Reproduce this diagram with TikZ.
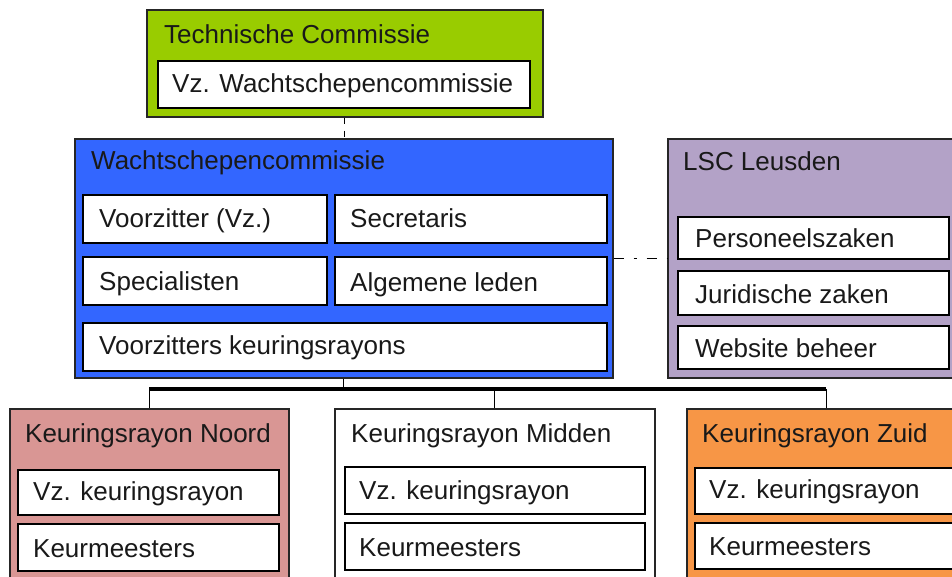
\documentclass[tikz,border=0pt]{standalone}
\usepackage{fontspec}
\setmainfont{Liberation Sans}
\definecolor{tcgreen}{HTML}{99CC00}
\definecolor{wcblue}{HTML}{3366FF}
\definecolor{lsclav}{HTML}{B3A2C7}
\definecolor{noordrose}{HTML}{D99694}
\definecolor{zuidorange}{HTML}{F79646}
\begin{document}
\begin{tikzpicture}[x=1pt,y=-1pt,
  outer/.style={draw=black!85, line width=1.6pt, anchor=north west, inner sep=0pt},
  inbox/.style={draw=black, fill=white, line width=1.6pt, anchor=north west, inner sep=0pt},
  txt/.style={anchor=base west, inner sep=0pt, font=\fontsize{26}{30}\selectfont, text=black!90},
  bus/.style={line width=3.2pt},
  link/.style={line width=1.3pt}]
\useasboundingbox (0,0) rectangle (952,576);
\clip (0,0) rectangle (952,576);
\fill[white] (0,0) rectangle (952,576);

% Technische Commissie
\node[outer, fill=tcgreen, minimum width=396pt, minimum height=107pt] (tc) at (146,9) {};
\node[inbox, minimum width=372pt, minimum height=47pt] (vzw) at (157,60) {};
\node[txt] (tct) at (164,43) {Technische Commissie};
\node[txt] (vzwt) at (172,92) {Vz. Wachtschepencommissie};

% Wachtschepencommissie
\node[outer, fill=wcblue, minimum width=538pt, minimum height=239pt] (wc) at (74,138) {};
\node[inbox, minimum width=244pt, minimum height=48pt] (vz) at (82,194) {};
\node[inbox, minimum width=272pt, minimum height=48pt] (sec) at (334,194) {};
\node[inbox, minimum width=244pt, minimum height=48pt] (spec) at (82,256) {};
\node[inbox, minimum width=272pt, minimum height=48pt] (alg) at (334,256) {};
\node[inbox, minimum width=524pt, minimum height=48pt] (vk) at (82,322) {};
\node[txt] (wct) at (91,169) {Wachtschepencommissie};
\node[txt] (vzt) at (99,227) {Voorzitter (Vz.)};
\node[txt] (sect) at (350,227) {Secretaris};
\node[txt] (spect) at (99,290) {Specialisten};
\node[txt] (algt) at (350,291) {Algemene leden};
\node[txt] (vkt) at (99,354) {Voorzitters keuringsrayons};

% LSC Leusden
\node[outer, fill=lsclav, minimum width=300pt, minimum height=239pt] (lsc) at (667,138) {};
\node[inbox, minimum width=271pt, minimum height=42pt] (pz) at (677,216) {};
\node[inbox, minimum width=271pt, minimum height=44pt] (jz) at (677,270) {};
\node[inbox, minimum width=271pt, minimum height=43pt] (wb) at (677,325) {};
\node[txt] (lsct) at (683,170) {LSC Leusden};
\node[txt] (pzt) at (695,247) {Personeelszaken};
\node[txt] (jzt) at (695,303) {Juridische zaken};
\node[txt] (wbt) at (695,357) {Website beheer};

% Keuringsrayons
\node[outer, fill=noordrose, minimum width=279pt, minimum height=190pt] (noord) at (9,408) {};
\node[inbox, minimum width=261pt, minimum height=45pt] (nvz) at (17,469) {};
\node[inbox, minimum width=261pt, minimum height=47pt] (nkm) at (17,523) {};
\node[txt] (noordt) at (25,442) {Keuringsrayon Noord};
\node[txt] (nvzt) at (33,500) {Vz. keuringsrayon};
\node[txt] (nkmt) at (33,557) {Keurmeesters};

\node[outer, fill=white, minimum width=320pt, minimum height=190pt] (midden) at (334,408) {};
\node[inbox, minimum width=300pt, minimum height=47pt] (mvz) at (344,466) {};
\node[inbox, minimum width=300pt, minimum height=47pt] (mkm) at (344,522) {};
\node[txt] (middent) at (351,442) {Keuringsrayon Midden};
\node[txt] (mvzt) at (359,499) {Vz. keuringsrayon};
\node[txt] (mkmt) at (359,556) {Keurmeesters};

\node[outer, fill=zuidorange, minimum width=279pt, minimum height=190pt] (zuid) at (686,408) {};
\node[inbox, minimum width=270pt, minimum height=46pt] (zvz) at (694,467) {};
\node[inbox, minimum width=270pt, minimum height=46pt] (zkm) at (694,522) {};
\node[txt] (zuidt) at (702,442) {Keuringsrayon Zuid};
\node[txt] (zvzt) at (709,498) {Vz. keuringsrayon};
\node[txt] (zkmt) at (709,555) {Keurmeesters};

% connectors
\draw[link, dash pattern=on 6pt off 7pt] (tc.south) -- (tc.south |- wc.north);
\draw[link, dash pattern=on 10pt off 10pt on 3pt off 10pt] (wc.east) -- (wc.east -| lsc.west);
\coordinate (busy) at (0,389);
\draw[link] (wc.south) -- (wc.south |- busy);
\draw[bus] (noord.north |- busy) -- (zuid.north |- busy);
\draw[link] (noord.north |- busy) -- (noord.north);
\draw[link] (midden.north |- busy) -- (midden.north);
\draw[link] (zuid.north |- busy) -- (zuid.north);
\end{tikzpicture}
\end{document}
